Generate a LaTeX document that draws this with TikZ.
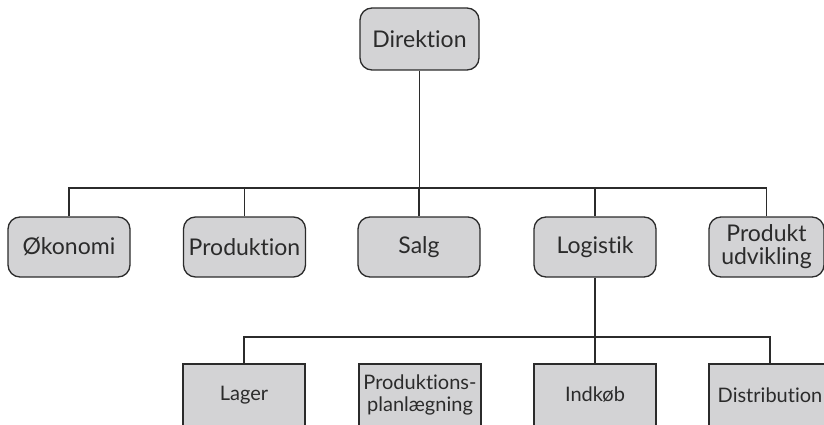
\documentclass[tikz,border=0pt]{standalone}
\usepackage{fontspec}
\setmainfont{Lato}[Ligatures={NoCommon,NoRare}]
\definecolor{boxgray}{HTML}{D3D3D5}
\definecolor{inkgray}{HTML}{2B2B2B}

\tikzset{
  unit/.style = {draw=inkgray, line width=1.3pt, fill=boxgray, rounded corners=12pt,
    minimum width=122pt, minimum height=60pt, text=inkgray, align=center,
    inner sep=2pt, font=\fontsize{23}{23}\selectfont},
  subunit/.style = {unit, rounded corners=0pt, minimum height=62pt,
    font=\fontsize{20}{22}\selectfont},
  orgline/.style = {draw=inkgray, line width=1.3pt}
}

\begin{document}
\begin{tikzpicture}[x=1pt, y=1pt]
\useasboundingbox (0,0) rectangle (824,424);
\clip (0,0) rectangle (824,424);
% top
\node[unit, minimum width=119pt, minimum height=62pt] (direktion) at (419.5,385) {Direktion};
% departments
\node[unit] (oekonomi) at (69,177) {Økonomi};
\node[unit] (produktion) at (244.5,177) {Produktion};
\node[unit] (salg) at (419,177) {Salg};
\node[unit] (logistik) at (595,177) {Logistik};
\node[unit, minimum width=115pt] (udvikling) at (766.5,177) {Produkt\\udvikling};
% logistics
\node[subunit] (lager) at (244,29) {Lager};
\node[subunit] (planlaegning) at (420,29) {Produktions-\\planlægning};
\node[subunit] (indkoeb) at (595,29) {Indkøb};
\node[subunit] (distribution) at (770,29) {Distribution};

\coordinate (topbar) at (0,236);
\coordinate (lowbar) at (0,87);
\draw[orgline] (direktion.south) -- (direktion.south |- topbar);
\draw[orgline] (oekonomi.north) |- (topbar -| udvikling.north) -- (udvikling.north);
\foreach \dept in {produktion,salg,logistik}
  \draw[orgline] (\dept.north) -- (\dept.north |- topbar);
\draw[orgline] (logistik.south) -- (indkoeb.north);
\draw[orgline] (lager.north) |- (lowbar -| distribution.north) -- (distribution.north);
\end{tikzpicture}
\end{document}
